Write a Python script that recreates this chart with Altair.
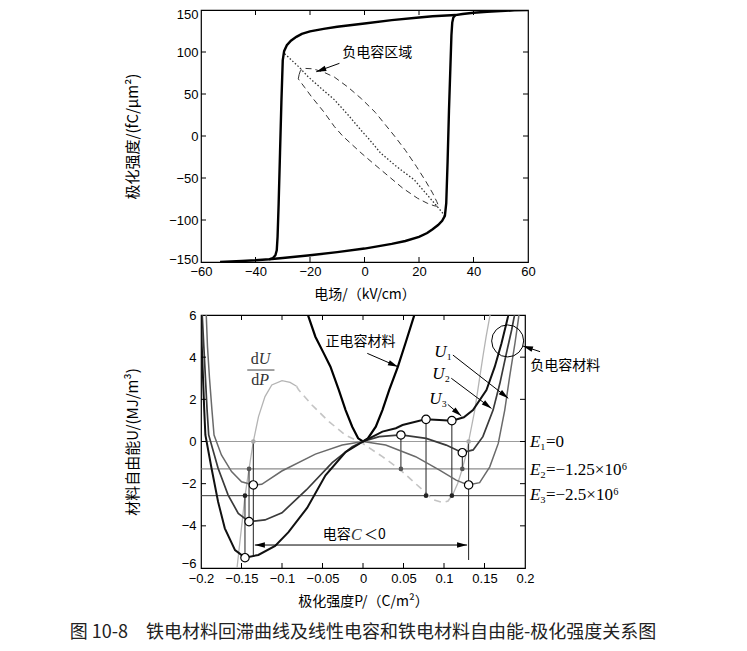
import math
import altair as alt
import pandas as pd

CJK = "Noto Sans CJK SC"
SANS = "Liberation Sans"
SERIF = "Liberation Serif, DejaVu Serif"

# ================= top panel data (E kV/cm, P fC/um^2) =================
hystA_E = [-53, -45, -40, -35, -30, -20, -10, 0, 10, 15, 20, 23, 25, 27, 28.5, 29.5, 30, 30.5, 31, 31.5,
           31.9, 32.2, 32.6, 33.4, 36, 40, 45, 50, 55, 60]
hystA_P = [-150, -148.8, -148, -146.8, -145.2, -142, -138.3, -134, -128.5, -125, -120, -115.5, -111, -106, -101, -95,
           -80, -30, 30, 80, 120, 135, 141, 144, 145.2, 146.8, 148, 148.8, 149.5, 150]
hystB_E = [33.4, 25, 20, 10, 0, -10, -15, -20, -23, -25, -27, -28.5, -29.5, -30, -30.5, -31, -31.5, -31.9, -32.2,
           -32.7, -33.6, -35]
hystB_P = [144, 142.5, 141, 138, 134, 130, 127.5, 124.5, 121.5, 118, 113.5, 108, 101, 90, 40, -20, -80, -120, -136,
           -142, -145.3, -146.8]
dashU_E = [-24, -23.5, -22, -19, -15, -11, -6, -1, 4, 8, 11, 15, 19, 22.5, 25, 26.5, 27.3]
dashU_P = [73, 78, 80.5, 80, 76, 70, 58, 44, 28, 12, 0, -17, -36, -54, -68, -78, -84]
dashL_E = [-24, -24.3, -22, -19.5, -15, -11, -8, -5, -1.3, 3, 8.5, 14, 19.4, 23, 25.5, 27.3]
dashL_P = [73, 68, 58, 47, 29, 11, 0, -9, -20, -32, -47, -62, -74, -80, -83, -84]
dot_E = [-29.3, -28, -24, -20.7, -16, -11, -6, -1.3, 2, 6, 12, 18.2, 23, 26.7, 28.5, 29.7]
dot_P = [98, 94, 82, 70.6, 57, 43, 25, 7, -5, -20.6, -37, -52, -70, -84, -91, -97]
top_xlabels = [-60, -40, -20, 0, 20, 40, 60]
top_ylabels = [-150, -100, -50, 0, 50, 100, 150]
top_xticks = [-40, -20, 0, 20, 40]
top_yticks = [-100, -50, 0, 50, 100]
top_note = "负电容区域"
top_note_xy = (4.7, 99.4)
top_arrows = [(-9.2, 86.5, -17.7, 76.5)]

# ================= bottom panel data (P C/m^2, U MJ/m^3) =================
pos_P = [-0.0705, -0.068, -0.0588, -0.0484, -0.0402, -0.0298, -0.0215, -0.0133, -0.006, 0, 0.006, 0.0158, 0.024,
         0.0323, 0.0431, 0.053, 0.0634, 0.0655]
pos_U = [6.4, 6.0, 4.97, 4.18, 3.55, 2.44, 1.49, 0.70, 0.15, 0, 0.15, 0.70, 1.49, 2.44, 3.55, 4.73, 6.0, 6.4]
U1_P = [-0.1945, -0.1935, -0.192, -0.1895, -0.1865, -0.1839, -0.1748, -0.1623, -0.1499, -0.1354, -0.125, -0.1002,
        -0.0588, -0.0257, 0, 0.028, 0.065, 0.094, 0.115, 0.1296, 0.144, 0.1565, 0.167, 0.175, 0.181, 0.1876, 0.192,
        0.1935]
U1_U = [6.5, 6.0, 4.5, 3.0, 1.5, 0.31, -0.64, -1.43, -1.91, -2.06, -2.03, -1.4, -0.6, -0.17, 0, -0.17, -0.72, -1.35,
        -1.83, -2.06, -1.95, -1.2, -0.09, 1.49, 3.07, 4.66, 5.84, 6.4]
U2_P = [-0.1995, -0.1985, -0.1965, -0.1945, -0.1925, -0.1905, -0.1789, -0.1665, -0.154, -0.1407, -0.121, -0.1, -0.07,
        -0.038, -0.0133, 0, 0.02, 0.047, 0.078, 0.1027, 0.1226, 0.136, 0.148, 0.1606, 0.169, 0.177, 0.1835, 0.1867,
        0.188]
U2_U = [6.5, 6.0, 4.5, 3.0, 1.5, 0.31, -1.27, -2.54, -3.41, -3.8, -3.72, -3.38, -2.3, -1.0, -0.25, 0, 0.23, 0.31,
        0.15, -0.17, -0.53, -0.4, 0.23, 1.49, 2.76, 4.18, 5.29, 5.92, 6.4]
U3_P = [-0.2005, -0.2, -0.199, -0.1975, -0.196, -0.1946, -0.187, -0.1789, -0.1706, -0.158, -0.1457, -0.1292, -0.1085,
        -0.092, -0.069, -0.0463, -0.0215, 0, 0.024, 0.0406, 0.0488, 0.077, 0.0944, 0.11, 0.1245, 0.1358, 0.1524,
        0.1627, 0.171, 0.177, 0.179, 0.18]
U3_U = [6.5, 6.0, 4.5, 3.0, 1.5, 0.31, -1.27, -2.86, -4.12, -5.15, -5.51, -5.38, -4.95, -4.3, -3.15, -1.6, -0.5, 0,
        0.47, 0.63, 0.78, 1.05, 1.02, 0.99, 1.15, 1.49, 2.44, 3.55, 4.66, 5.6, 5.92, 6.4]
dUa_P = [-0.1575, -0.1565, -0.1457, -0.1407, -0.1354, -0.129, -0.121, -0.1126, -0.1, -0.09, -0.082]
dUa_U = [-6.6, -6.33, -2.59, -1.3, 0, 1.18, 2.13, 2.68, 2.89, 2.8, 2.62]
dUb_P = [-0.082, -0.0795, -0.063, -0.042, -0.0215, 0, 0.024, 0.0447, 0.065, 0.078, 0.086, 0.0985, 0.105, 0.111]
dUb_U = [2.62, 2.45, 1.73, 0.94, 0.30, -0.1, -0.72, -1.3, -2.0, -2.45, -2.75, -2.9, -2.82, -2.5]
dUc_P = [0.111, 0.117, 0.1226, 0.1276, 0.1304, 0.138, 0.143, 0.148, 0.152, 0.1565, 0.158]
dUc_U = [-2.5, -1.98, -1.3, -0.56, 0, 1.49, 2.76, 4.02, 4.97, 5.92, 6.3]
E_line_U = [0, -1.3, -2.57]
E_line_col = ["#9c9c9c", "#6e6e6e", "#383838"]
dot_P2 = [-0.1354, 0.1304, -0.1407, 0.0468, 0.1226, -0.1457, 0.0778, 0.1097]
dot_U2 = [0, 0, -1.3, -1.3, -1.3, -2.57, -2.57, -2.57]
dot_col = ["#a8a8a8", "#a8a8a8", "#555555", "#555555", "#555555", "#222222", "#222222", "#222222"]
circ_P = [-0.1354, 0.1304, -0.1407, 0.0468, 0.1226, -0.1457, 0.0778, 0.1097]
circ_U = [-2.06, -2.06, -3.8, 0.31, -0.53, -5.51, 1.05, 0.99]
vert_P = [-0.1354, 0.1304, -0.1407, 0.0468, 0.1226, -0.1457, 0.0778, 0.1097]
vert_U1 = [0, 0, -1.3, 0.31, -0.53, -2.57, 1.05, 0.99]
vert_U2 = [-5.46, -5.62, -3.8, -1.3, -1.3, -5.51, -2.57, -2.57]
bot_xlabels = [-0.2, -0.15, -0.1, -0.05, 0, 0.05, 0.1, 0.15, 0.2]
bot_ylabels = [-6, -4, -2, 0, 2, 4, 6]
bot_xticks = [-0.15, -0.1, -0.05, 0, 0.05, 0.1, 0.15]
bot_yticks = [-4, -2, 0, 2, 4]
ring_xy = (0.1786, 4.77)
bot_arrows = [(0.0053, 4.18, 0.0431, 3.55), (0.2186, 4.26, 0.1975, 4.53), (0.111, 4.10, 0.1793, 2.05),
              (0.109, 3.0, 0.1586, 1.57), (0.1047, 1.76, 0.1214, 1.21), (0.0, -4.91, -0.1335, -4.91),
              (0.0, -4.91, 0.1285, -4.91)]
cjk_center = [("正电容材料", -0.003, 4.72), ("负电容材料", 0.2497, 3.58)]
cjk_right = [("电容", -0.0152, -4.44)]
cjk_left = [("＜0", 0.0012, -4.44)]
it_right = [("U", 0.1031, 4.25), ("U", 0.1006, 3.20), ("U", 0.0969, 2.02)]
sub_left = [("₁", 0.1031, 4.25), ("₂", 0.1006, 3.20), ("₃", 0.0969, 2.02)]
it_left = [("U", -0.1286, 3.91), ("P", -0.128, 2.92), ("C", -0.0149, -4.44)]
reg_right = [("d", -0.1286, 3.91), ("d", -0.128, 2.92)]
frac_bar = (-0.1429, -0.1093, 3.39)
E_lab_it = [("E", 0.2062, 0.0), ("E", 0.2062, -1.35), ("E", 0.2062, -2.54)]
E_lab_rest = [("₁=0", 0.2062, 0.0), ("₂=−1.25×10⁶", 0.2062, -1.35), ("₃=−2.5×10⁶", 0.2062, -2.54)]
caption = ("图 10-8　铁电材料回滞曲线及线性电容和铁电材料自由能-极化强度关系图", 0.0, -9.08)

# ================= helpers =================
W1, H1 = 327, 252
W2, H2 = 324, 253
DOM = {1: ([-60, 60], [-150, 150]), 2: ([-0.2, 0.2], [-6, 6])}
SIZE = {1: (W1, H1), 2: (W2, H2)}

ax_common = dict(ticks=False, domain=False, grid=False, labelFont=SANS, labelFontSize=13, labelColor="black",
                 titleFont=CJK, titleFontWeight="normal", titleColor="black",
                 labelFlush=False, labelOverlap=False)
AX = {
    1: (alt.Axis(values=top_xlabels, format="d", title="电场/（kV/cm）", labelPadding=3, titlePadding=9,
                 titleFontSize=14, **ax_common),
        alt.Axis(values=top_ylabels, format="d", title="极化强度/(fC/μm²)", labelPadding=3,
                 labelOffset={"condition": [{"test": "datum.value == 150", "value": 4},
                                            {"test": "datum.value == -150", "value": -3}], "value": 0},
                 minExtent=50, maxExtent=50, titlePadding=11, titleFontSize=15, **ax_common)),
    2: (alt.Axis(values=bot_xlabels, format=".2~f", title="极化强度P/（C/m²）",
                 labelPadding=4, titlePadding=9, titleFontSize=14, **ax_common),
        alt.Axis(values=bot_ylabels, format="d", title="材料自由能U/(MJ/m³)", labelPadding=5,
                 labelOffset=alt.condition("datum.value == -6", alt.value(-5), alt.value(0)),
                 minExtent=50, maxExtent=50, titlePadding=11, titleFontSize=15, **ax_common)),
}


def X(p):
    return alt.X("x:Q", scale=alt.Scale(domain=DOM[p][0], nice=False, zero=False), axis=AX[p][0])


def Y(p):
    return alt.Y("y:Q", scale=alt.Scale(domain=DOM[p][1], nice=False, zero=False), axis=AX[p][1])


def line(p, xs, ys, **kw):
    df = pd.DataFrame({"x": xs, "y": ys, "o": list(range(len(xs)))})
    return alt.Chart(df).mark_line(clip=True, **kw).encode(x=X(p), y=Y(p), order="o:Q")


def texts(p, items, font, size, align, style="normal", color="black", dx=0):
    df = pd.DataFrame(items, columns=["t", "x", "y"])
    return alt.Chart(df).mark_text(font=font, fontSize=size, align=align, baseline="middle", fontStyle=style,
                                   color=color, dx=dx).encode(x=X(p), y=Y(p), text="t:N")


ARROW = "M0,0L-2,-0.55L-2,0.55Z"


def arrows(p, arr, color="black", width=1.0):
    (x0, x1), (y0, y1) = DOM[p]
    kx = SIZE[p][0] / (x1 - x0)
    ky = SIZE[p][1] / (y1 - y0)
    seg, head = [], []
    for (a, b, c, d) in arr:
        seg.append({"x": a, "y": b, "x2": c, "y2": d})
        ang = math.degrees(math.atan2(-(d - b) * ky, (c - a) * kx)) % 360
        head.append({"x": c, "y": d, "a": ang})
    l1 = alt.Chart(pd.DataFrame(seg)).mark_rule(color=color, strokeWidth=width).encode(
        x=X(p), y=Y(p), x2="x2:Q", y2="y2:Q")
    l2 = alt.Chart(pd.DataFrame(head)).mark_point(shape=ARROW, filled=True, color=color, size=100, opacity=1,
                                                 strokeWidth=0).encode(x=X(p), y=Y(p),
                                                                       angle=alt.Angle("a:Q", scale=None))
    return [l1, l2]


def inner_ticks(p, xt, yt, L=5):
    W, H = SIZE[p]
    dx = pd.DataFrame({"x": xt})
    dy = pd.DataFrame({"y": yt})
    r = dict(color="black", strokeWidth=1)
    return [
        alt.Chart(dx).mark_rule(**r).encode(x=X(p), y=alt.value(0), y2=alt.value(L)),
        alt.Chart(dx).mark_rule(**r).encode(x=X(p), y=alt.value(H - L), y2=alt.value(H)),
        alt.Chart(dy).mark_rule(**r).encode(y=Y(p), x=alt.value(0), x2=alt.value(L)),
        alt.Chart(dy).mark_rule(**r).encode(y=Y(p), x=alt.value(W - L), x2=alt.value(W)),
    ]


# ================= top chart =================
top_layers = [
    line(1, dashU_E, dashU_P, color="#333333", strokeWidth=1.0, strokeDash=[6, 4]),
    line(1, dashL_E, dashL_P, color="#333333", strokeWidth=1.0, strokeDash=[6, 4]),
    line(1, dot_E, dot_P, color="#333333", strokeWidth=1.3, strokeDash=[1.5, 2]),
    line(1, hystA_E, hystA_P, color="black", strokeWidth=2.4),
    line(1, hystB_E, hystB_P, color="black", strokeWidth=2.4),
    texts(1, [(top_note, top_note_xy[0], top_note_xy[1])], CJK, 14, "center"),
] + arrows(1, top_arrows) + inner_ticks(1, top_xticks, top_yticks)
top = alt.layer(*top_layers).properties(width=W1, height=H1)

# ================= bottom chart =================
eline_df = pd.DataFrame({"y": E_line_U, "c": E_line_col})
dots_df = pd.DataFrame({"x": dot_P2, "y": dot_U2, "c": dot_col})
circ_df = pd.DataFrame({"x": circ_P, "y": circ_U})
vert_df = pd.DataFrame({"x": vert_P, "y": vert_U1, "y2": vert_U2})
ring_df = pd.DataFrame({"x": [ring_xy[0]], "y": [ring_xy[1]]})
bar_df = pd.DataFrame({"x": [frac_bar[0]], "x2": [frac_bar[1]], "y": [frac_bar[2]]})

bot_layers = [
    alt.Chart(eline_df).mark_rule(strokeWidth=1).encode(y=Y(2), x=alt.value(0), x2=alt.value(W2),
                                                         color=alt.Color("c:N", scale=None)),
    line(2, dUa_P, dUa_U, color="#b4b4b4", strokeWidth=1.3),
    line(2, dUb_P, dUb_U, color="#c4c4c4", strokeWidth=1.6, strokeDash=[7, 5]),
    line(2, dUc_P, dUc_U, color="#b4b4b4", strokeWidth=1.3),
    alt.Chart(vert_df).mark_rule(color="#222222", strokeWidth=1).encode(x=X(2), y=Y(2), y2="y2:Q"),
    line(2, pos_P, pos_U, color="black", strokeWidth=2.2),
    line(2, U1_P, U1_U, color="#6a6a6a", strokeWidth=1.5),
    line(2, U2_P, U2_U, color="#3a3a3a", strokeWidth=1.7),
    line(2, U3_P, U3_U, color="#111111", strokeWidth=2.0),
    alt.Chart(bar_df).mark_rule(color="#444444", strokeWidth=1).encode(x=X(2), x2="x2:Q", y=Y(2)),
    alt.Chart(ring_df).mark_point(shape="circle", filled=False, size=1024, color="black", strokeWidth=1,
                                  opacity=1).encode(x=X(2), y=Y(2)),
] + arrows(2, bot_arrows) + [
    alt.Chart(dots_df).mark_circle(size=22, opacity=1).encode(x=X(2), y=Y(2), color=alt.Color("c:N", scale=None)),
    alt.Chart(circ_df).mark_circle(size=70, fill="white", stroke="black", strokeWidth=1.2, opacity=1).encode(
        x=X(2), y=Y(2)),
    texts(2, cjk_center, CJK, 14, "center"),
    texts(2, cjk_right, CJK, 14, "right"),
    texts(2, cjk_left, CJK, 14, "left"),
    texts(2, it_right, SERIF, 17, "right", style="italic"),
    texts(2, sub_left, SERIF, 16, "left"),
    texts(2, it_left, SERIF, 16, "left", style="italic", color="#333333"),
    texts(2, reg_right, SERIF, 16, "right", color="#333333"),
    texts(2, E_lab_it, SERIF, 17, "left", style="italic"),
    texts(2, E_lab_rest, SERIF, 17, "left", dx=10),
    texts(2, [caption], CJK, 18, "center", color="#222222"),
] + inner_ticks(2, bot_xticks, bot_yticks)
bottom = alt.layer(*bot_layers).properties(width=W2, height=H2)

chart = alt.vconcat(top, bottom, spacing=53, bounds="flush").properties(
    autosize=alt.AutoSizeParams(type="none"),
    padding={"left": 193, "top": 2, "right": 538, "bottom": 633},
).configure_view(stroke="black", strokeWidth=1.2)

chart.save("out.html", embed_options={"renderer": "svg", "actions": False})
